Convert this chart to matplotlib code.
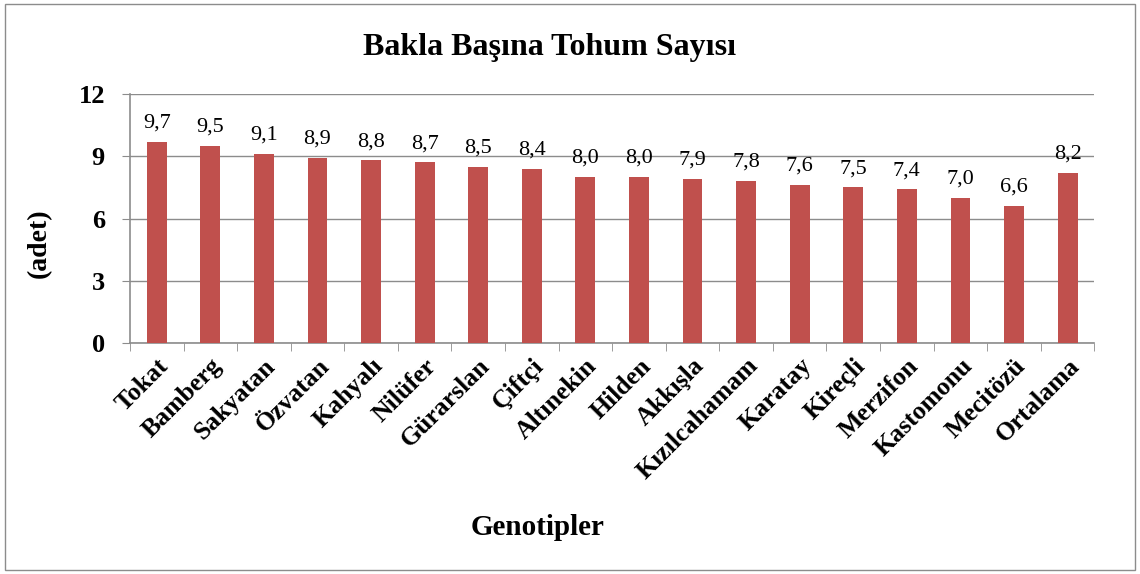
import numpy as np
import matplotlib.pyplot as plt
from matplotlib.patches import Rectangle

genotipler = ['Tokat', 'Bamberg', 'Sakyatan', 'Özvatan', 'Kahyalı', 'Nilüfer', 'Gürarslan',
              'Çiftçi', 'Altınekin', 'Hilden', 'Akkışla', 'Kızılcahamam', 'Karatay', 'Kireçli',
              'Merzifon', 'Kastomonu', 'Mecitözü', 'Ortalama']
tohum_sayisi = [9.7, 9.5, 9.1, 8.9, 8.8, 8.7, 8.5, 8.4, 8.0, 8.0, 7.9, 7.8, 7.6, 7.5, 7.4, 7.0, 6.6, 8.2]
yticks = [0, 3, 6, 9, 12]

plt.rcParams['font.family'] = ['Liberation Serif', 'DejaVu Serif']

fig = plt.figure(figsize=(11.4, 5.74), dpi=100)
ax = fig.add_axes([0.114, 0.4024, 0.846, 0.4338])

x = np.arange(len(genotipler))
bars = ax.bar(x, tohum_sayisi, width=0.37, color='#C0504D', zorder=3)
for xi, v in zip(x, tohum_sayisi):
    ax.text(xi, v + 0.45, f'{v:.1f}'.replace('.', ','), ha='center', va='bottom', fontsize=16)

ax.set_xlim(-0.5, len(genotipler) - 0.5)
ax.set_ylim(0, 12)
ax.set_yticks(yticks)
ax.set_yticklabels([str(t) for t in yticks], fontsize=19, fontweight='bold')
ax.yaxis.grid(True, color='#8c8c8c', linewidth=1, zorder=0)

ax.set_xticks(x)
ax.set_xticklabels(genotipler, rotation=45, ha='right', rotation_mode='anchor',
                   fontsize=18.5, fontweight='bold')
ax.set_xticks(np.arange(-0.5, len(genotipler)), minor=True)
ax.tick_params(axis='x', which='major', length=0, pad=8)
ax.tick_params(axis='x', which='minor', length=6, color='#8c8c8c', direction='out')
ax.tick_params(axis='y', length=6, color='#8c8c8c', direction='out', pad=12)

for s in ['top', 'right']:
    ax.spines[s].set_visible(False)
for s in ['left', 'bottom']:
    ax.spines[s].set_color('#8c8c8c')
    ax.spines[s].set_linewidth(1.2)

ax.set_ylabel('(adet)', fontsize=20, fontweight='bold')
ax.yaxis.set_label_coords(-0.081, 0.40)
ax.set_xlabel('Genotipler', fontsize=21, fontweight='bold')
ax.xaxis.set_label_coords(0.423, -0.685)

fig.text(0.482, 0.918, 'Bakla Başına Tohum Sayısı', ha='center', va='center',
         fontsize=23, fontweight='bold')

fig.patches.append(Rectangle((0.004, 0.007), 0.992, 0.986, transform=fig.transFigure,
                             fill=False, edgecolor='#8c8c8c', linewidth=1))

fig.savefig('out.png', dpi=100)
